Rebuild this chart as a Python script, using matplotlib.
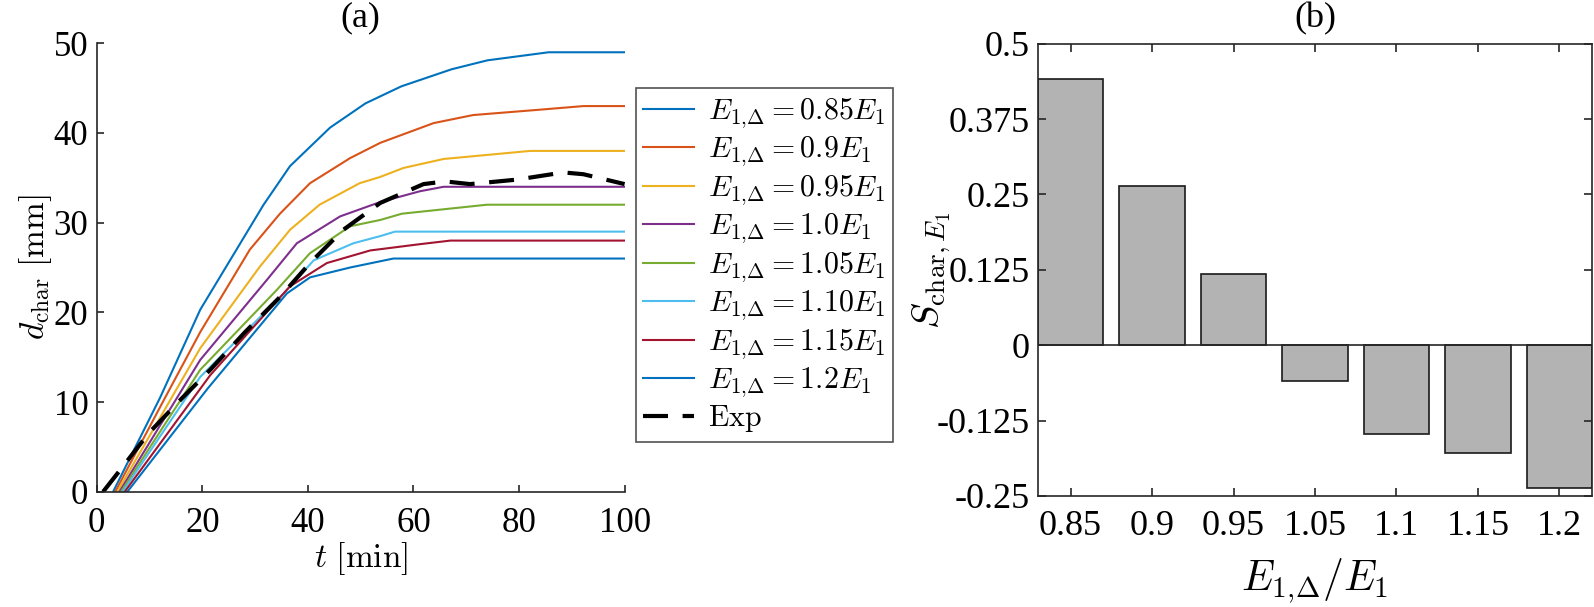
import numpy as np
import matplotlib
matplotlib.use('Agg')
import matplotlib.pyplot as plt

plt.rcParams['font.family'] = 'serif'
plt.rcParams['font.serif'] = ['Liberation Serif', 'DejaVu Serif']
plt.rcParams['mathtext.fontset'] = 'cm'

# (a) char depth curves, t [min] vs d_char [mm]
t_085 = [3.1, 7.5, 12.0, 19.6, 31.6, 36.6, 44.2, 50.9, 57.7, 67.2, 74.0, 85.6, 100]
d_085 = [0, 5.2, 10.5, 20.3, 32.0, 36.3, 40.6, 43.3, 45.2, 47.1, 48.1, 49.0, 49.0]
t_090 = [3.5, 12.5, 19.6, 29.0, 34.7, 40.4, 48.0, 53.7, 63.8, 71.3, 84.0, 92.2, 100]
d_090 = [0, 10.0, 17.8, 27.0, 31.0, 34.4, 37.2, 38.9, 41.1, 42.0, 42.6, 43.0, 43.0]
t_095 = [3.9, 13.7, 19.6, 30.9, 36.6, 42.2, 49.8, 53.7, 58.1, 65.7, 82.1, 100]
d_095 = [0, 10.0, 16.0, 25.1, 29.2, 32.0, 34.4, 35.1, 36.1, 37.1, 38.0, 38.0]
t_100 = [4.3, 19.6, 32.2, 37.9, 46.1, 53.7, 61.2, 65.7, 100]
d_100 = [0, 14.7, 23.6, 27.7, 30.7, 32.3, 33.5, 34.0, 34.0]
t_105 = [4.6, 19.6, 34.1, 40.4, 48.0, 53.7, 57.8, 73.9, 100]
d_105 = [0, 13.6, 22.5, 26.6, 29.6, 30.3, 31.0, 32.0, 32.0]
t_110 = [4.9, 19.6, 35.4, 41.1, 48.6, 53.7, 56.5, 100]
d_110 = [0, 12.8, 22.1, 25.8, 27.7, 28.5, 29.0, 29.0]
t_115 = [5.3, 21.5, 36.6, 43.6, 51.8, 61.2, 67.0, 100]
d_115 = [0, 13.0, 22.9, 25.5, 26.9, 27.6, 28.0, 28.0]
t_120 = [5.8, 21.0, 36.0, 40.4, 48.0, 56.2, 100]
d_120 = [0, 11.5, 22.1, 23.9, 25.0, 26.0, 26.0]
t_exp = [1.2, 4.4, 9.8, 16.1, 21.5, 28.1, 34.7, 40.4, 46.7, 53.7, 61.9, 66.0,
         70.7, 79.6, 88.4, 92.2, 100]
d_exp = [0, 2.4, 6.5, 10.4, 13.6, 17.8, 21.7, 25.5, 29.2, 32.2, 34.3, 34.6,
         34.3, 34.8, 35.6, 35.4, 34.3]

labels_a = [r'$E_{1,\!\Delta}=0.85E_1$', r'$E_{1,\!\Delta}=0.9E_1$', r'$E_{1,\!\Delta}=0.95E_1$',
            r'$E_{1,\!\Delta}=1.0E_1$', r'$E_{1,\!\Delta}=1.05E_1$', r'$E_{1,\!\Delta}=1.10E_1$',
            r'$E_{1,\!\Delta}=1.15E_1$', r'$E_{1,\!\Delta}=1.2E_1$']
colors = ['#0072BD', '#D95319', '#EDB120', '#7E2F8E', '#77AC30', '#4DBEEE', '#A2142F', '#0072BD']

# (b) sensitivity bars
ratios = ['0.85', '0.9', '0.95', '1.05', '1.1', '1.15', '1.2']
sens = [0.441, 0.264, 0.1176, -0.0597, -0.148, -0.178, -0.2365]

W, H = 1594, 607
fig = plt.figure(figsize=(W / 100, H / 100), dpi=100)

ax1 = fig.add_axes([96.8 / W, 1 - 491.7 / H, (624.6 - 96.8) / W, (491.7 - 43.3) / H])
curves = [(t_085, d_085), (t_090, d_090), (t_095, d_095), (t_100, d_100),
          (t_105, d_105), (t_110, d_110), (t_115, d_115), (t_120, d_120)]
for (tt, dd), c, lb in zip(curves, colors, labels_a):
    ax1.plot(tt, dd, color=c, lw=1.5, label=lb)
ax1.plot(t_exp, d_exp, color='k', lw=3, ls=(0, (6, 3.5)), label=r'$\mathrm{Exp}$')
ax1.set_xlim(0, 100)
ax1.set_ylim(0, 50)
ax1.set_xticks(np.arange(0, 101, 20))
ax1.set_yticks(np.arange(0, 51, 10))
ax1.spines['top'].set_visible(False)
ax1.spines['right'].set_visible(False)
for s in ['left', 'bottom']:
    ax1.spines[s].set_linewidth(1.2)
    ax1.spines[s].set_color('#262626')
ax1.tick_params(direction='in', length=5, width=1.2, labelsize=25, colors='#262626',
                labelcolor='k', pad=6)
ax1.tick_params(axis='x', pad=11)
ax1.set_xlabel(r'$t\ [\mathrm{min}]$', fontsize=24, labelpad=0)
ax1.set_ylabel(r'$d_{\mathrm{char}}\ [\mathrm{mm}]$', fontsize=24, labelpad=0)
ax1.set_title('(a)', fontsize=26, pad=12)

leg = ax1.legend(loc='upper left', bbox_to_anchor=(636 / W, 1 - 88 / H),
                 bbox_transform=fig.transFigure, borderaxespad=0, fontsize=21.5,
                 frameon=True, fancybox=False, edgecolor='#262626',
                 handlelength=1.7, labelspacing=0.14, borderpad=0.25, handletextpad=0.45)
leg.get_frame().set_linewidth(1.2)

ax2 = fig.add_axes([1038 / W, 1 - 496 / H, (1592 - 1038) / W, (496 - 43.7) / H])
pos = np.arange(1, len(ratios) + 1)
ax2.bar(pos, sens, width=0.8, color='#b3b3b3', edgecolor='#1a1a1a', linewidth=1.2)
ax2.axhline(0, color='#262626', lw=1.2)
ax2.set_xlim(0.6, 7.4)
ax2.set_ylim(-0.25, 0.5)
ax2.set_xticks(pos)
ax2.set_xticklabels(ratios)
ax2.set_yticks([-0.25, -0.125, 0, 0.125, 0.25, 0.375, 0.5])
ax2.set_yticklabels(['-0.25', '-0.125', '0', '0.125', '0.25', '0.375', '0.5'])
for s in ax2.spines.values():
    s.set_linewidth(1.2)
    s.set_color('#262626')
ax2.tick_params(direction='in', length=6, width=1.2, labelsize=26, top=True, right=True,
                colors='#262626', labelcolor='k', pad=6)
ax2.tick_params(axis='x', pad=10)
ax2.set_xlabel(r'$E_{1,\!\Delta}/E_1$', fontsize=30, labelpad=10)
ax2.set_ylabel(r'$S_{\mathrm{char},E_1}$', fontsize=28, labelpad=-12)
ax2.set_title('(b)', fontsize=26, pad=12)

fig.savefig('out.png', dpi=100)
